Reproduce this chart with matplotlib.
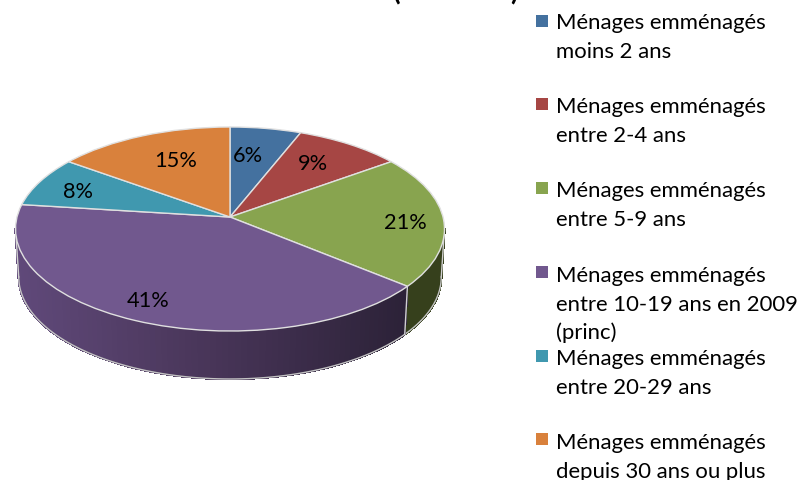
import numpy as np
import matplotlib
matplotlib.use('Agg')
import matplotlib.pyplot as plt
from matplotlib.collections import PolyCollection
from matplotlib.colors import LinearSegmentedColormap
from matplotlib.transforms import Transform

# --- data ---
labels = [
    'Ménages emménagés\nmoins 2 ans',
    'Ménages emménagés\nentre 2-4 ans',
    'Ménages emménagés\nentre 5-9 ans',
    'Ménages emménagés\nentre 10-19 ans en 2009\n(princ)',
    'Ménages emménagés\nentre 20-29 ans',
    'Ménages emménagés\ndepuis 30 ans ou plus',
]
values = [6, 9, 21, 41, 8, 15]
colors = ['#44719f', '#a64644', '#88a44f', '#71588e', '#4098af', '#d9813c']

# pixel positions on the page
value_label_xy = [(248, 156), (313, 164), (405, 223), (148, 301), (78, 192), (176, 161)]
legend_y = [22, 105, 189, 273, 357, 440]
legend_base = [29, 113, 197, 282, 365, 449]

FONT = 'Lato'
APEX_X, APEX_Y = 230, 218
ELLIPSE_Y = 230
K = 0.1176      # strength of the perspective
SX, SY = 213, 102
DEPTH = 48


class Perspective(Transform):
    """Unit disc -> tilted pie top, in page pixels."""
    input_dims = 2
    output_dims = 2

    def transform_non_affine(self, values):
        values = np.asarray(values)
        u, v = values[:, 0], values[:, 1]
        w = 1 + K * v
        x = APEX_X + SX * u / w
        y = ELLIPSE_Y - (SY * v + (ELLIPSE_Y - APEX_Y)) / w
        return np.column_stack([x, y])


persp = Perspective()


def rim(theta_deg):
    t = np.radians(theta_deg)
    return persp.transform_non_affine(np.column_stack([np.cos(t), np.sin(t)]))


fig = plt.figure(figsize=(7.98, 4.81), dpi=100)
ax = fig.add_axes([0, 0, 1, 1])

wedges, _ = ax.pie(values, colors=colors, startangle=90, counterclock=False,
                   wedgeprops={'edgecolor': '#e0e0e0', 'linewidth': 1.0, 'zorder': 3})
for w in wedges:
    w.set_transform(persp + ax.transData)

ax.set_aspect('auto')
ax.set_xlim(0, 798)
ax.set_ylim(481, 0)

# --- side wall of the front slices ---
shade = LinearSegmentedColormap.from_list('wall', ['#60497a', '#483558', '#2c2238'])
front_lo, front_hi = -173.25, -6.75
for w, col in zip(wedges, colors):
    lo, hi = max(w.theta1, front_lo), min(w.theta2, front_hi)
    if hi <= lo:
        continue
    th = np.linspace(lo, hi, int((hi - lo) / 1.5) + 2)
    top = rim(th)
    bot = np.column_stack([APEX_X + (top[:, 0] - APEX_X) * 0.985, top[:, 1] + DEPTH])
    quads = [[top[i], top[i + 1], bot[i + 1], bot[i]] for i in range(len(th) - 1)]
    if col == colors[3]:
        fc = [shade(np.clip((q[0][0] - 15) / 390, 0, 1)) for q in quads]
    else:
        fc = ['#36401c'] * len(quads)
    ax.add_collection(PolyCollection(quads, facecolors=fc, edgecolors=fc, linewidths=1.0,
                                     antialiaseds=False, zorder=2))
    ax.plot(bot[:, 0], bot[:, 1], color='#c4c4c4', lw=1.0, zorder=2)
    ax.plot([top[0, 0], bot[0, 0]], [top[0, 1], bot[0, 1]], color='#d0d0d0', lw=1.0, zorder=2)
    ax.plot([top[-1, 0], bot[-1, 0]], [top[-1, 1], bot[-1, 1]], color='#d0d0d0', lw=1.0, zorder=2)

# --- value labels ---
for v, (x, y) in zip(values, value_label_xy):
    ax.text(x, y, f'{v}%', ha='center', va='center', fontsize=15.7, family=FONT, color='black', zorder=5)

# --- legend ---
for lab, col, ym, yb in zip(labels, colors, legend_y, legend_base):
    ax.scatter([541.5], [ym], marker='s', s=80, color=col, linewidths=0, zorder=5)
    for i, line in enumerate(lab.split('\n')):
        ax.text(556, yb + i * 28.7, line, ha='left', va='baseline', fontsize=15.9,
                family=FONT, color='black')

# title is cropped by the top edge of the picture: only the parenthesis tails show
ax.text(397, 0, '(', ha='center', va='baseline', fontsize=20, fontweight='bold', family=FONT, clip_on=False)
ax.text(514, 0, ')', ha='center', va='baseline', fontsize=20, fontweight='bold', family=FONT, clip_on=False)

fig.savefig('out.png', dpi=100)
